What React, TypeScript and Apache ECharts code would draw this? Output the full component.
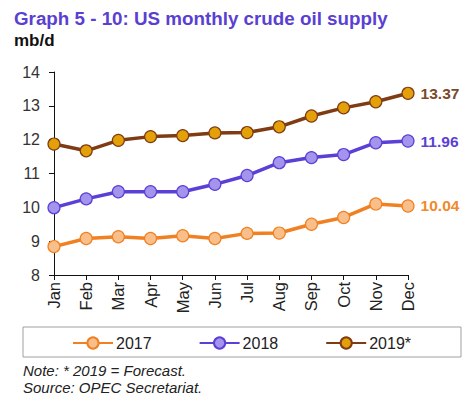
import React, { useEffect, useRef } from 'react';
import * as echarts from 'echarts';

const months = ['Jan', 'Feb', 'Mar', 'Apr', 'May', 'Jun', 'Jul', 'Aug', 'Sep', 'Oct', 'Nov', 'Dec'];
const supply2017 = [8.84, 9.08, 9.13, 9.08, 9.16, 9.08, 9.23, 9.24, 9.5, 9.7, 10.1, 10.04];
const supply2018 = [9.99, 10.25, 10.46, 10.46, 10.46, 10.68, 10.94, 11.32, 11.47, 11.56, 11.91, 11.96];
const supply2019 = [11.87, 11.67, 11.98, 12.09, 12.12, 12.2, 12.21, 12.38, 12.7, 12.94, 13.12, 13.37];
const seriesNames = ['2017', '2018', '2019*'];

const FONT = '"Liberation Sans", Arial, sans-serif';

const styles = [
  { line: '#f08021', fill: '#f9bf8a', border: '#f08021', label: '#f08a2c' },
  { line: '#5b3fd6', fill: '#a594ec', border: '#5b3fd6', label: '#5b3fd6' },
  { line: '#7f3c14', fill: '#e3a008', border: '#7f3c14', label: '#7a4a2a' },
];

const makeSeries = (name: string, values: number[], s: typeof styles[number]) => ({
  name,
  type: 'line' as const,
  symbol: 'circle',
  symbolSize: 12,
  lineStyle: { width: 3.5, color: s.line },
  itemStyle: { color: s.fill, borderColor: s.border, borderWidth: 1.2 },
  data: values.map((v, i) =>
    i === values.length - 1
      ? {
          value: v,
          label: {
            show: true,
            position: 'right',
            distance: 6,
            formatter: () => v.toFixed(2),
            color: s.label,
            fontFamily: FONT,
            fontWeight: 'bold',
            fontSize: 15.5,
          },
        }
      : v,
  ),
});

export default function App() {
  const ref = useRef<HTMLDivElement>(null);

  useEffect(() => {
    document.body.style.margin = '0';
    if (!ref.current) return;
    const chart = echarts.init(ref.current, undefined, { renderer: 'svg' });
    chart.setOption({
      animation: false,
      backgroundColor: '#ffffff',
      textStyle: { fontFamily: FONT },
      title: {
        text: 'Graph 5 - 10: US monthly crude oil supply',
        left: 9,
        top: 4,
        textStyle: { fontFamily: FONT, fontWeight: 'bold', fontSize: 18.8, color: '#5a3fd3' },
      },
      graphic: [
        {
          type: 'text',
          left: 14,
          top: 32,
          style: { text: 'mb/d', font: `bold 17px ${FONT}`, fill: '#111' },
        },
        {
          type: 'rect',
          shape: { x: 23, y: 327, width: 438, height: 30 },
          style: { fill: 'none', stroke: '#a0a0a0', lineWidth: 1 },
        },
        {
          type: 'text',
          left: 23,
          top: 363,
          style: { text: 'Note: * 2019 = Forecast.', font: `italic 15px ${FONT}`, fill: '#222' },
        },
        {
          type: 'text',
          left: 23,
          top: 380,
          style: { text: 'Source: OPEC Secretariat.', font: `italic 15px ${FONT}`, fill: '#222' },
        },
      ],
      legend: {
        left: 72,
        top: 335,
        padding: 0,
        itemGap: 47,
        itemWidth: 40,
        itemHeight: 14,
        textStyle: { fontFamily: FONT, fontSize: 16, color: '#222', padding: [0, 0, 0, -2] },
        data: seriesNames,
      },
      grid: { left: 54, right: 64, top: 72, bottom: 127, containLabel: false },
      xAxis: {
        type: 'category',
        data: months,
        boundaryGap: false,
        axisLine: { lineStyle: { color: '#111', width: 1 } },
        axisTick: { show: true, alignWithLabel: true, length: 5, lineStyle: { color: '#111' } },
        axisLabel: { rotate: 90, fontSize: 16.5, color: '#222', margin: 7, fontFamily: FONT },
        splitLine: { show: false },
      },
      yAxis: {
        type: 'value',
        min: 8,
        max: 14,
        interval: 1,
        axisLine: { show: true, lineStyle: { color: '#111', width: 1 } },
        axisTick: { show: true, length: 5, lineStyle: { color: '#111' } },
        axisLabel: { fontSize: 16, color: '#333', margin: 14, fontFamily: FONT },
        splitLine: { show: false },
      },
      series: [
        makeSeries(seriesNames[0], supply2017, styles[0]),
        makeSeries(seriesNames[1], supply2018, styles[1]),
        makeSeries(seriesNames[2], supply2019, styles[2]),
      ],
    });
    return () => chart.dispose();
  }, []);

  return <div ref={ref} style={{ width: 472, height: 402 }} />;
}
